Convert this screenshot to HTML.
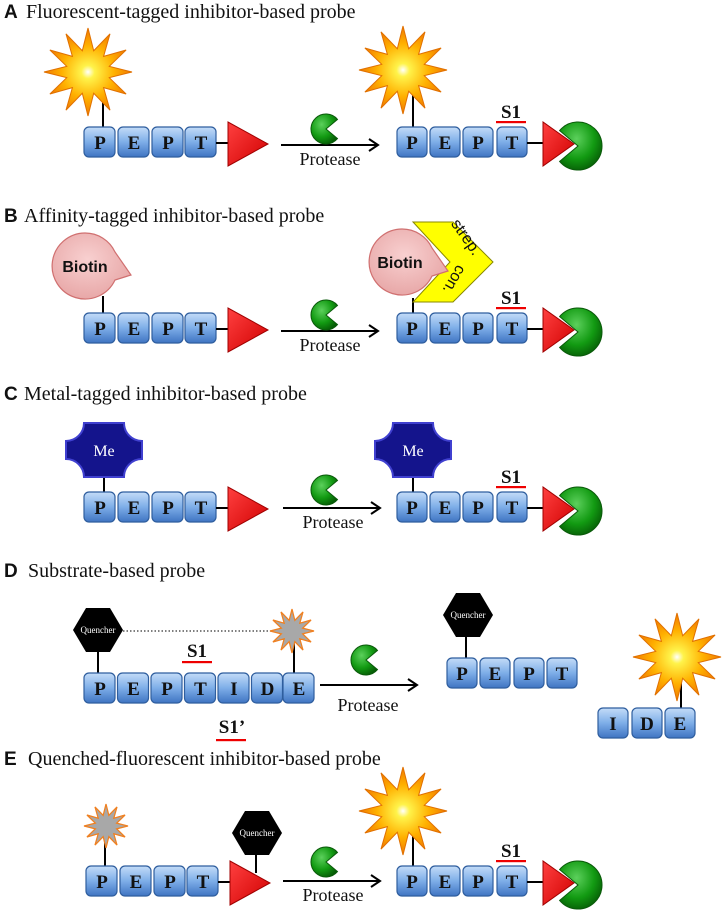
<!DOCTYPE html>
<html><head><meta charset="utf-8"><style>
html,body{margin:0;padding:0;background:#fff;}
svg{display:block;}
.t{font-family:"Liberation Serif",serif;font-size:20px;fill:#111;}
.h{font-family:"Liberation Sans",sans-serif;font-size:19px;font-weight:bold;fill:#111;}
.b{font-family:"Liberation Serif",serif;font-size:19px;font-weight:bold;fill:#111;text-anchor:middle;}
.p{font-family:"Liberation Serif",serif;font-size:18px;fill:#111;text-anchor:middle;}
.q{font-family:"Liberation Serif",serif;font-size:9px;fill:#fff;text-anchor:middle;}
</style></head><body>
<svg width="723" height="916" viewBox="0 0 723 916" xmlns="http://www.w3.org/2000/svg">
<defs>
<linearGradient id="bx" x1="0" y1="0" x2="0" y2="1"><stop offset="0" stop-color="#c4dcf8"/><stop offset="0.5" stop-color="#7eaee8"/><stop offset="1" stop-color="#3f74c2"/></linearGradient>
<linearGradient id="rd" x1="0" y1="0" x2="1" y2="1"><stop offset="0" stop-color="#ff4040"/><stop offset="1" stop-color="#d00000"/></linearGradient>
<radialGradient id="gr" cx="0.4" cy="0.35" r="0.7"><stop offset="0" stop-color="#5cd05c"/><stop offset="0.6" stop-color="#129a12"/><stop offset="1" stop-color="#065c06"/></radialGradient>
<radialGradient id="st" cx="0.5" cy="0.5" r="0.5"><stop offset="0" stop-color="#ffffff"/><stop offset="0.15" stop-color="#fff34a"/><stop offset="0.6" stop-color="#ffb000"/><stop offset="1" stop-color="#f07800"/></radialGradient>
<radialGradient id="bt" cx="0.45" cy="0.4" r="0.6"><stop offset="0" stop-color="#f8d0d0"/><stop offset="1" stop-color="#e8a8a8"/></radialGradient>
<rect id="box" x="0" y="-15" width="31" height="30" rx="5" fill="url(#bx)" stroke="#2f5e9e" stroke-width="1.2"/>
<rect id="boxr" x="0" y="-15" width="30" height="30" rx="5" fill="url(#bx)" stroke="#2f5e9e" stroke-width="1.2"/>
<path id="star" d="M44,0 L21.3,5.7 L38.1,22 L15.6,15.6 L22,38.1 L5.7,21.3 L0,44 L-5.7,21.3 L-22,38.1 L-15.6,15.6 L-38.1,22 L-21.3,5.7 L-44,0 L-21.3,-5.7 L-38.1,-22 L-15.6,-15.6 L-22,-38.1 L-5.7,-21.3 L0,-44 L5.7,-21.3 L22,-38.1 L15.6,-15.6 L38.1,-22 L21.3,-5.7 Z"/>
<path id="pac" d="M0,0 L11.5,-9.6 A15,15 0 1 0 11.5,9.6 Z" fill="url(#gr)" stroke="#0a5a0a" stroke-width="1"/>
<path id="bpac" d="M0,0 L-18.4,-15.4 A24,24 0 1 1 -18.4,15.4 Z" fill="url(#gr)" stroke="#0a5a0a" stroke-width="1"/>
<polygon id="tri" points="0,-20 0,24 40,2" fill="url(#rd)" stroke="#a00000" stroke-width="1"/>
<polygon id="trir" points="0,-20 0,24 31,2" fill="url(#rd)" stroke="#a00000" stroke-width="1"/>
<polygon id="hex" points="-12,-22 12,-22 25,0 12,22 -12,22 -25,0" fill="#000"/>
<path id="me" d="M-20,-27 L20,-27 A18 18 0 0 0 38,-9 L38,9 A18 18 0 0 0 20,27 L-20,27 A18 18 0 0 0 -38,9 L-38,-9 A18 18 0 0 0 -20,-27 Z" fill="#14148c" stroke="#4040d0" stroke-width="2"/>
<path id="bio" d="M0,-33 A33,33 0 1 0 30,14 L46,9 L30,-14 A33,33 0 0 0 0,-33 Z" fill="url(#bt)" stroke="#d07070" stroke-width="1.2"/>
</defs>

<text x="4" y="18" class="h">A</text><text x="26" y="18" class="t">Fluorescent-tagged inhibitor-based probe</text>
<text x="4" y="222" class="h">B</text><text x="24" y="222" class="t">Affinity-tagged  inhibitor-based probe</text>
<text x="4" y="400" class="h">C</text><text x="24" y="400" class="t">Metal-tagged inhibitor-based probe</text>
<text x="4" y="577" class="h">D</text><text x="28" y="577" class="t">Substrate-based probe</text>
<text x="4" y="765" class="h">E</text><text x="28" y="765" class="t">Quenched-fluorescent inhibitor-based probe</text>

<!-- Row A -->
<g transform="translate(0,142)">
<line x1="103" y1="-15" x2="103" y2="-50" stroke="#000" stroke-width="2"/>
<use href="#star" transform="translate(88,-70)" fill="url(#st)" stroke="#e07000" stroke-width="1"/>
<use href="#box" x="84"/><use href="#box" x="118"/><use href="#box" x="152"/><use href="#box" x="185"/>
<text x="100" y="7" class="b">P</text><text x="134" y="7" class="b">E</text><text x="168" y="7" class="b">P</text><text x="201" y="7" class="b">T</text>
<line x1="216" y1="1" x2="229" y2="1" stroke="#000" stroke-width="2"/>
<use href="#tri" x="228"/>
<line x1="281" y1="3" x2="377" y2="3" stroke="#000" stroke-width="2"/><polyline points="369,-3 378,3 369,9" fill="none" stroke="#000" stroke-width="2"/>
<use href="#pac" x="326" y="-13"/>
<text x="330" y="23" class="p">Protease</text>
<line x1="413" y1="-15" x2="413" y2="-52" stroke="#000" stroke-width="2"/>
<use href="#star" transform="translate(403,-72)" fill="url(#st)" stroke="#e07000" stroke-width="1"/>
<use href="#boxr" x="397"/><use href="#boxr" x="430"/><use href="#boxr" x="463"/><use href="#boxr" x="497"/>
<text x="412" y="7" class="b">P</text><text x="445" y="7" class="b">E</text><text x="478" y="7" class="b">P</text><text x="512" y="7" class="b">T</text>
<line x1="527" y1="1" x2="545" y2="1" stroke="#000" stroke-width="2"/>
<use href="#bpac" x="578" y="4"/><use href="#trir" x="543"/>
<text x="511" y="-24" class="b">S1</text><rect x="496" y="-21" width="30" height="2.2" fill="#e00"/>
</g>

<!-- Row B -->
<g transform="translate(0,328)">
<line x1="103" y1="-15" x2="103" y2="-32" stroke="#000" stroke-width="2"/>
<use href="#bio" transform="translate(85,-62)"/>
<text x="85" y="-56" style="font-family:'Liberation Sans',sans-serif;font-weight:bold;font-size:16px;text-anchor:middle;fill:#111">Biotin</text>
<use href="#box" x="84"/><use href="#box" x="118"/><use href="#box" x="152"/><use href="#box" x="185"/>
<text x="100" y="7" class="b">P</text><text x="134" y="7" class="b">E</text><text x="168" y="7" class="b">P</text><text x="201" y="7" class="b">T</text>
<line x1="216" y1="1" x2="229" y2="1" stroke="#000" stroke-width="2"/>
<use href="#tri" x="228"/>
<line x1="281" y1="3" x2="377" y2="3" stroke="#000" stroke-width="2"/><polyline points="369,-3 378,3 369,9" fill="none" stroke="#000" stroke-width="2"/>
<use href="#pac" x="326" y="-13"/>
<text x="330" y="23" class="p">Protease</text>
<line x1="413" y1="-15" x2="413" y2="-30" stroke="#000" stroke-width="2"/>
<polygon points="413,-106 453,-106 493,-66 453,-26 413,-26 450,-66" fill="#ffff00" stroke="#888800" stroke-width="1"/>
<text transform="translate(462,-88) rotate(55)" style="font-family:'Liberation Sans',sans-serif;font-size:16px;text-anchor:middle;fill:#111">strep.</text>
<text transform="translate(455,-48) rotate(-60) rotate(180)" style="font-family:'Liberation Sans',sans-serif;font-size:16px;text-anchor:middle;fill:#111" dy="6">con.</text>
<use href="#bio" transform="translate(402,-66)"/>
<text x="400" y="-60" style="font-family:'Liberation Sans',sans-serif;font-weight:bold;font-size:16px;text-anchor:middle;fill:#111">Biotin</text>
<use href="#boxr" x="397"/><use href="#boxr" x="430"/><use href="#boxr" x="463"/><use href="#boxr" x="497"/>
<text x="412" y="7" class="b">P</text><text x="445" y="7" class="b">E</text><text x="478" y="7" class="b">P</text><text x="512" y="7" class="b">T</text>
<line x1="527" y1="1" x2="545" y2="1" stroke="#000" stroke-width="2"/>
<use href="#bpac" x="578" y="4"/><use href="#trir" x="543"/>
<text x="511" y="-24" class="b">S1</text><rect x="496" y="-21" width="30" height="2.2" fill="#e00"/>
</g>

<!-- Row C -->
<g transform="translate(0,507)">
<line x1="104" y1="-15" x2="104" y2="-30" stroke="#000" stroke-width="2"/>
<use href="#me" transform="translate(104,-57)"/>
<text x="104" y="-51" style="font-family:'Liberation Serif',serif;font-size:16px;fill:#fff;text-anchor:middle">Me</text>
<use href="#box" x="84"/><use href="#box" x="118"/><use href="#box" x="152"/><use href="#box" x="185"/>
<text x="100" y="7" class="b">P</text><text x="134" y="7" class="b">E</text><text x="168" y="7" class="b">P</text><text x="201" y="7" class="b">T</text>
<line x1="216" y1="1" x2="229" y2="1" stroke="#000" stroke-width="2"/>
<use href="#tri" x="228"/>
<line x1="283" y1="1" x2="379" y2="1" stroke="#000" stroke-width="2"/><polyline points="371,-5 380,1 371,7" fill="none" stroke="#000" stroke-width="2"/>
<use href="#pac" x="326" y="-17"/>
<text x="333" y="21" class="p">Protease</text>
<line x1="413" y1="-15" x2="413" y2="-30" stroke="#000" stroke-width="2"/>
<use href="#me" transform="translate(413,-57)"/>
<text x="413" y="-51" style="font-family:'Liberation Serif',serif;font-size:16px;fill:#fff;text-anchor:middle">Me</text>
<use href="#boxr" x="397"/><use href="#boxr" x="430"/><use href="#boxr" x="463"/><use href="#boxr" x="497"/>
<text x="412" y="7" class="b">P</text><text x="445" y="7" class="b">E</text><text x="478" y="7" class="b">P</text><text x="512" y="7" class="b">T</text>
<line x1="527" y1="1" x2="545" y2="1" stroke="#000" stroke-width="2"/>
<use href="#bpac" x="578" y="4"/><use href="#trir" x="543"/>
<text x="511" y="-24" class="b">S1</text><rect x="496" y="-21" width="30" height="2.2" fill="#e00"/>
</g>

<!-- Row D -->
<g transform="translate(0,688)">
<line x1="123" y1="-57" x2="275" y2="-57" stroke="#333" stroke-width="1.2" stroke-dasharray="1.5,2"/>
<line x1="98" y1="-15" x2="98" y2="-37" stroke="#000" stroke-width="2"/>
<use href="#hex" transform="translate(98,-58)"/>
<text x="98" y="-55" class="q">Quencher</text>
<line x1="294" y1="-15" x2="294" y2="-50" stroke="#000" stroke-width="2"/>
<use href="#star" transform="translate(292,-57) scale(0.5)" fill="#a8a8a8" stroke="#f08020" stroke-width="2.5"/>
<use href="#box" x="84"/><use href="#box" x="117.5"/><use href="#box" x="151"/><use href="#box" x="184.5"/><use href="#box" x="218"/><use href="#box" x="251.5"/><use href="#box" x="283"/>
<text x="100" y="7" class="b">P</text><text x="133.5" y="7" class="b">E</text><text x="167" y="7" class="b">P</text><text x="200.5" y="7" class="b">T</text><text x="234" y="7" class="b">I</text><text x="267.5" y="7" class="b">D</text><text x="299" y="7" class="b">E</text>
<text x="197" y="-31" class="b">S1</text><rect x="182" y="-27" width="30" height="2.2" fill="#e00"/>
<text x="232" y="45" class="b">S1’</text><rect x="216" y="51" width="30" height="2.2" fill="#e00"/>
<line x1="320" y1="-3" x2="416" y2="-3" stroke="#000" stroke-width="2"/><polyline points="408,-9 417,-3 408,3" fill="none" stroke="#000" stroke-width="2"/>
<use href="#pac" x="366" y="-28"/>
<text x="368" y="23" class="p">Protease</text>
<line x1="466" y1="-30" x2="466" y2="-51" stroke="#000" stroke-width="2"/>
<use href="#hex" transform="translate(468,-73)"/>
<text x="468" y="-70" class="q">Quencher</text>
<use href="#boxr" transform="translate(447,-15)"/><use href="#boxr" transform="translate(480,-15)"/><use href="#boxr" transform="translate(514,-15)"/><use href="#boxr" transform="translate(547,-15)"/>
<text x="462" y="-8" class="b">P</text><text x="495" y="-8" class="b">E</text><text x="529" y="-8" class="b">P</text><text x="562" y="-8" class="b">T</text>
<line x1="681" y1="20" x2="681" y2="-10" stroke="#000" stroke-width="2"/>
<use href="#star" transform="translate(677,-31)" fill="url(#st)" stroke="#e07000" stroke-width="1"/>
<use href="#boxr" transform="translate(598,35)"/><use href="#boxr" transform="translate(632,35)"/><use href="#boxr" transform="translate(665,35)"/>
<text x="613" y="42" class="b">I</text><text x="647" y="42" class="b">D</text><text x="680" y="42" class="b">E</text>
</g>

<!-- Row E -->
<g transform="translate(0,881)">
<line x1="105" y1="-15" x2="105" y2="-50" stroke="#000" stroke-width="2"/>
<use href="#star" transform="translate(106,-55) scale(0.5)" fill="#a8a8a8" stroke="#f08020" stroke-width="2.5"/>
<use href="#box" x="86"/><use href="#box" x="120"/><use href="#box" x="154"/><use href="#box" x="187"/>
<text x="102" y="7" class="b">P</text><text x="136" y="7" class="b">E</text><text x="170" y="7" class="b">P</text><text x="203" y="7" class="b">T</text>
<line x1="218" y1="1" x2="231" y2="1" stroke="#000" stroke-width="2"/>
<line x1="256" y1="-26" x2="256" y2="-8" stroke="#000" stroke-width="2"/>
<use href="#hex" transform="translate(257,-48)"/>
<text x="257" y="-45" class="q">Quencher</text>
<use href="#tri" x="230"/>
<line x1="283" y1="0" x2="379" y2="0" stroke="#000" stroke-width="2"/><polyline points="371,-6 380,0 371,6" fill="none" stroke="#000" stroke-width="2"/>
<use href="#pac" x="326" y="-19"/>
<text x="333" y="20" class="p">Protease</text>
<line x1="413" y1="-15" x2="413" y2="-50" stroke="#000" stroke-width="2"/>
<use href="#star" transform="translate(403,-70)" fill="url(#st)" stroke="#e07000" stroke-width="1"/>
<use href="#boxr" x="397"/><use href="#boxr" x="430"/><use href="#boxr" x="463"/><use href="#boxr" x="497"/>
<text x="412" y="7" class="b">P</text><text x="445" y="7" class="b">E</text><text x="478" y="7" class="b">P</text><text x="512" y="7" class="b">T</text>
<line x1="527" y1="1" x2="545" y2="1" stroke="#000" stroke-width="2"/>
<use href="#bpac" x="578" y="4"/><use href="#trir" x="543"/>
<text x="511" y="-24" class="b">S1</text><rect x="496" y="-21" width="30" height="2.2" fill="#e00"/>
</g>
</svg>
</body></html>
